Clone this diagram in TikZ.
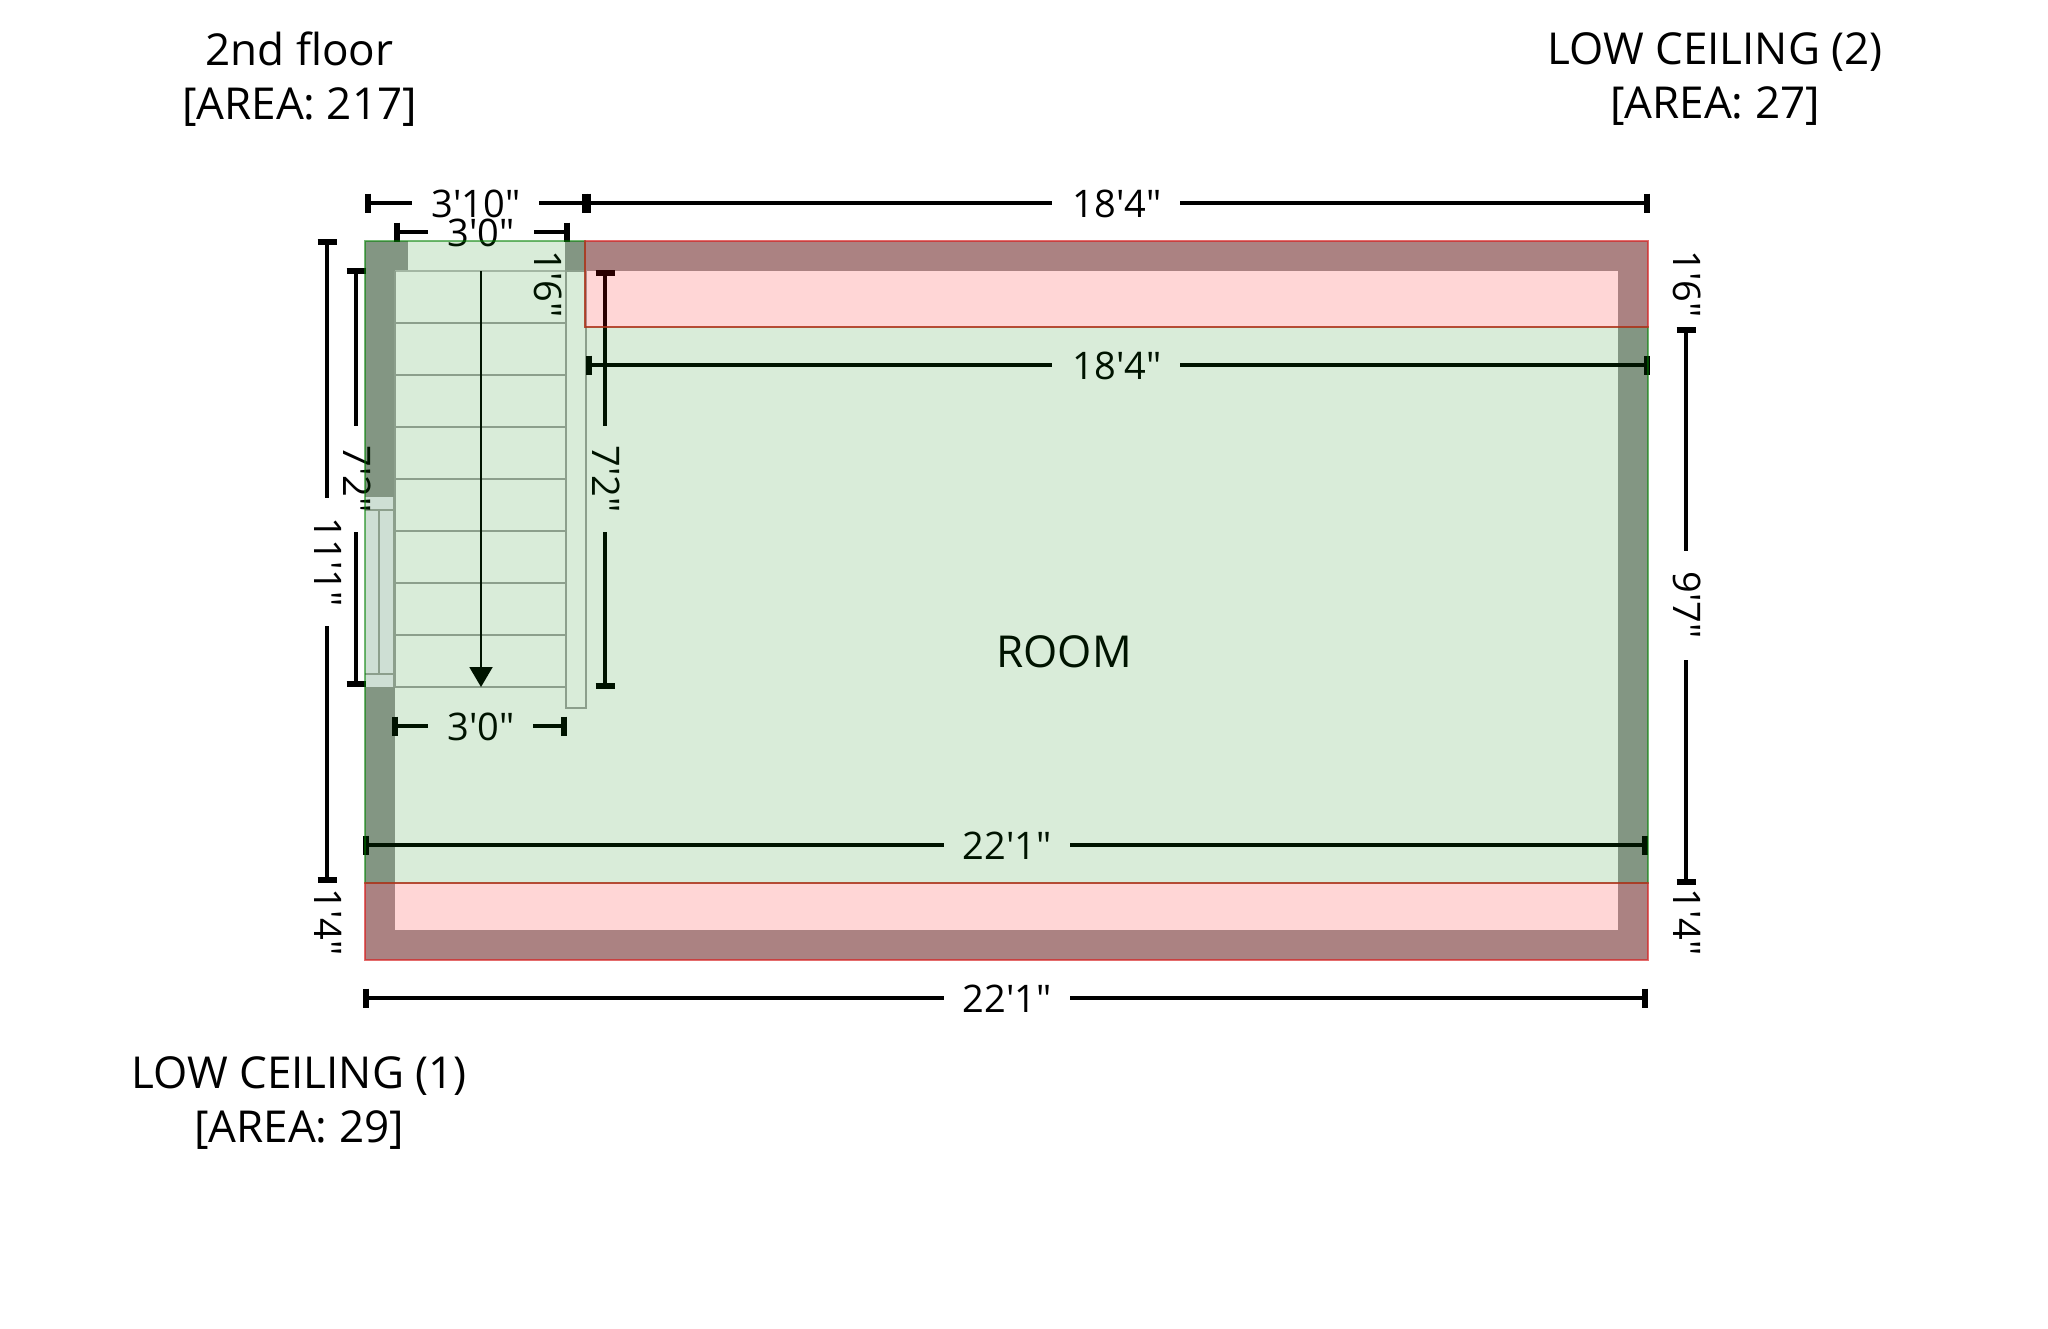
\documentclass[tikz,border=0pt]{standalone}
\usepackage{fontspec}
\newfontfamily\plainopen{Open Sans}
\usetikzlibrary{arrows.meta}
\definecolor{wallc}{RGB}{155,155,155}
\definecolor{linec}{RGB}{165,165,165}
\definecolor{winc}{RGB}{243,240,250}
\tikzset{
  px/.style={x=1pt,y=-1pt},
  wall/.style={fill=wallc,draw=none},
  stair/.style={draw=linec,line width=2.4pt},
  dim/.style={draw=black,line width=3.4pt},
  tick/.style={draw=black,line width=6pt},
  lab/.style={inner sep=0pt,font=\plainopen\fontsize{38}{46}\selectfont,text=black},
  big/.style={inner sep=0pt,align=center,font=\plainopen\fontsize{44}{54}\selectfont,text=black},
  greenzone/.style={fill={rgb,255:red,0;green,128;blue,0},fill opacity=.15,draw={rgb,255:red,0;green,128;blue,0},draw opacity=.55,line width=2.4pt},
  redzone/.style={fill={rgb,255:red,255;green,0;blue,0},fill opacity=.16,draw={rgb,255:red,215;green,30;blue,30},draw opacity=.65,line width=2.4pt}
}
% name, y, x1, xa, xb, x2, xlabel, text
\newcommand{\hdim}[8]{%
  \node[lab] (#1) at (#7,#2+1) {#8};
  \draw[dim] (#3,#2) -- (#4,#2) (#5,#2) -- (#6,#2);
  \draw[tick] (#3,#2-9.5) -- (#3,#2+9.5) (#6,#2-9.5) -- (#6,#2+9.5);
}
% name, x, y1, ya, yb, y2, ylabel, text
\newcommand{\vdim}[8]{%
  \node[lab,rotate=-90] (#1) at (#2+1,#7) {#8};
  \draw[dim] (#2,#3) -- (#2,#4) (#2,#5) -- (#2,#6);
  \draw[tick] (#2-9.5,#3) -- (#2+9.5,#3) (#2-9.5,#6) -- (#2+9.5,#6);
}
\begin{document}
\begin{tikzpicture}[px]
\useasboundingbox (0,0) rectangle (2048,1328);
\fill[white] (0,0) rectangle (2048,1328);
% walls
\fill[wall] (365,241) rectangle (408,271);
\fill[wall] (565,241) rectangle (1648,271);
\fill[wall] (365,271) rectangle (395,960);
\fill[wall] (1618,271) rectangle (1648,960);
\fill[wall] (395,930) rectangle (1618,960);
% window
\fill[winc] (365,497) rectangle (394,687);
\draw[stair] (365,510) -- (394,510) (365,674) -- (394,674) (379,510) -- (379,674) (394,497) -- (394,687);
% stairs
\draw[draw=linec!70,line width=2pt] (395,271) -- (566,271);
\foreach \yy in {323,375,427,479,531,583,635,687}
  \draw[stair] (395,\yy) -- (566,\yy);
\draw[stair] (395,271) -- (395,687);
\draw[stair] (566,271) rectangle (586,708);
\coordinate (arrowtop) at (481,271);
\coordinate (arrowend) at (481,687);
\draw[black,line width=2pt,-{Triangle[length=20pt,width=23pt]}] (arrowtop) -- (arrowend);
% dimensions
\hdim{da}{203}{368}{412}{539}{585}{476}{3'10"}
\hdim{db}{203}{588}{1052}{1180}{1647}{1117}{18'4"}
\hdim{dc}{232}{397}{428}{534}{567}{481}{3'0"}
\hdim{dd}{365}{589}{1052}{1180}{1647}{1117}{18'4"}
\hdim{de}{726}{395}{428}{533}{564}{481}{3'0"}
\hdim{df}{845}{366}{944}{1070}{1645}{1007}{22'1"}
\hdim{dg}{998}{366}{944}{1070}{1645}{1007}{22'1"}
\vdim{dh}{327}{242}{498}{626}{880}{562}{11'1"}
\vdim{di}{356}{271}{426}{532}{684}{479}{7'2"}
\vdim{dj}{605}{273}{426}{532}{686}{479}{7'2"}
\vdim{dk}{1686}{330}{551}{660}{882}{605}{9'7"}
\node[lab,rotate=-90] (dl) at (548,284) {1'6"};
\node[lab,rotate=-90] (dm) at (1687,284) {1'6"};
\node[lab,rotate=-90] (dn) at (328,922) {1'4"};
\node[lab,rotate=-90] (do) at (1687,922) {1'4"};
\node[big] (room) at (1064,652) {ROOM};
\node[big] (t1) at (299.5,79.5) {2nd floor\\{}[AREA: 217]};
\node[big] (t2) at (1715,79.5) {LOW CEILING (2)\\{}[AREA: 27]};
\node[big] (t3) at (299,1103) {LOW CEILING (1)\\{}[AREA: 29]};
% zones (tint everything beneath)
\path[greenzone] (365,241) -- (585,241) -- (585,327) -- (1648,327) -- (1648,883) -- (365,883) -- cycle;
\path[redzone] (585,241) rectangle (1648,327);
\path[redzone] (365,883) rectangle (1648,960);
\end{tikzpicture}
\end{document}
